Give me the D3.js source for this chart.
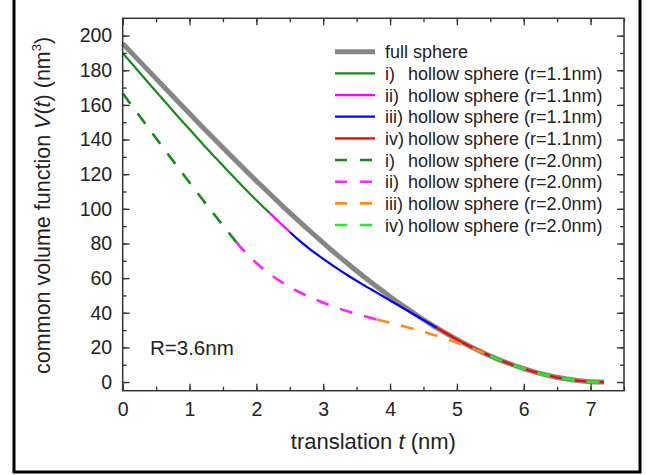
<!DOCTYPE html>
<html>
<head>
<meta charset="utf-8">
<script src="https://cdn.jsdelivr.net/npm/d3@7"></script>
<style>
	body { margin:0; background:#fff; }
	svg text { font-family:"Liberation Sans", Arial, sans-serif; fill:#222; }
</style>
</head>
<body>
<div id="mainchart"></div>
<script>
// Datos
// ========================
// translacion t (nm) y volumen comun V(t) (nm^3)

var tFull = [0,0.2,0.4,0.6,0.8,1.0,1.2,1.4,1.6,1.8,2.0,2.2,2.4,2.6,2.8,3.0,3.2,3.4,3.6,3.8,4.0,4.2,4.4,4.6,4.8,5.0,5.2,5.4,5.6,5.8,6.0,6.2,6.4,6.6,6.8,7.0,7.2];
var vFull = [195.4,187.3,179.2,171.1,163.0,155.0,147.0,139.2,131.4,123.7,116.1,108.7,101.3,94.2,87.2,80.4,73.7,67.3,61.1,55.1,49.3,43.8,38.6,33.6,29.0,24.6,20.5,16.8,13.4,10.4,7.7,5.4,3.5,2.0,0.9,0.2,0];

// hueco r=1.1nm, por tramos i) .. iv)
var tSmall1 = [0,0.2,0.4,0.6,0.8,1.0,1.2,1.4,1.6,1.8,2.0,2.2];
var vSmall1 = [189.9,181.0,172.1,163.3,154.5,145.9,137.3,129.0,120.8,112.8,105.0,97.5];
var tSmall2 = [2.2,2.4,2.5];
var vSmall2 = [97.5,90.2,86.6];
var tSmall3 = [2.5,2.6,2.8,3.0,3.2,3.4,3.6,3.8,4.0,4.2,4.4,4.6,4.7];
var vSmall3 = [86.6,83.1,76.8,71.1,65.8,60.8,56.1,51.6,47.1,42.6,38.1,33.6,31.3];
var tSmall4 = [4.7,4.8,5.0,5.2,5.4,5.6,5.8,6.0,6.2,6.4,6.6,6.8,7.0,7.2];
var vSmall4 = [31.3,29.0,24.6,20.5,16.8,13.4,10.4,7.7,5.4,3.5,2.0,0.9,0.2,0];

// hueco r=2.0nm, por tramos i) .. iv)
var tBig1 = [0,0.2,0.4,0.6,0.8,1.0,1.2,1.4,1.6,1.7];
var vBig1 = [166.7,156.3,145.9,135.6,125.3,115.2,105.1,95.3,85.6,80.8];
var tBig2 = [1.7,1.8,2.0,2.2,2.4,2.6,2.8,3.0,3.2,3.4,3.6,3.8];
var vBig2 = [80.8,76.3,68.7,62.4,57.2,52.8,49.0,45.8,42.9,40.4,38.2,36.1];
var tBig3 = [3.8,4.0,4.2,4.4,4.6,4.8,5.0,5.2,5.4,5.5];
var vBig3 = [36.1,34.2,32.2,30.1,27.8,25.4,22.7,19.9,16.7,15.1];
var tBig4 = [5.5,5.6,5.8,6.0,6.2,6.4,6.6,6.8,7.0,7.2];
var vBig4 = [15.1,13.4,10.4,7.7,5.4,3.5,2.0,0.9,0.2,0];

var xTicks = [0,1,2,3,4,5,6,7];
var yTicks = [0,20,40,60,80,100,120,140,160,180,200];

var series = [
	{label:"full sphere", pre:"", t:tFull, v:vFull, color:"#868686", width:5, dash:null},
	{label:"hollow sphere (r=1.1nm)", pre:"i)", t:tSmall1, v:vSmall1, color:"#158a15", width:2.2, dash:null},
	{label:"hollow sphere (r=1.1nm)", pre:"ii)", t:tSmall2, v:vSmall2, color:"#ff00ff", width:2.2, dash:null},
	{label:"hollow sphere (r=1.1nm)", pre:"iii)", t:tSmall3, v:vSmall3, color:"#0000ff", width:2.2, dash:null},
	{label:"hollow sphere (r=1.1nm)", pre:"iv)", t:tSmall4, v:vSmall4, color:"#ff0000", width:2.2, dash:null},
	{label:"hollow sphere (r=2.0nm)", pre:"i)", t:tBig1, v:vBig1, color:"#158a15", width:2.6, dash:"13,12"},
	{label:"hollow sphere (r=2.0nm)", pre:"ii)", t:tBig2, v:vBig2, color:"#ff22ff", width:2.6, dash:"13,12"},
	{label:"hollow sphere (r=2.0nm)", pre:"iii)", t:tBig3, v:vBig3, color:"#ff8c1a", width:2.6, dash:"13,12"},
	{label:"hollow sphere (r=2.0nm)", pre:"iv)", t:tBig4, v:vBig4, color:"#22ee22", width:2.6, dash:"13,12"}
];

var W = 654, H = 475;
var margin = {top:18.3, right:30, bottom:84.3, left:122.7};
var width = W - margin.left - margin.right,
	height = H - margin.top - margin.bottom;

var svg = d3.select("#mainchart").append("svg")
	.attr("width", W)
	.attr("height", H);

// marco exterior
svg.append("rect")
	.attr("x", 14).attr("y", -10)
	.attr("width", 626).attr("height", 482)
	.attr("fill", "none")
	.attr("stroke", "#000")
	.attr("stroke-width", 3);

var g = svg.append("g")
	.attr("transform", "translate(" + margin.left + "," + margin.top + ")");

var x = d3.scaleLinear().domain([0, 7.5]).range([0, width]);
var y = d3.scaleLinear().domain([-5, 210]).range([height, 0]);

// Curvas (primero la esfera completa, luego las solidas, luego las segmentadas)
var line = d3.line()
	.x(function(d) { return x(d[0]); })
	.y(function(d) { return y(d[1]); })
	.curve(d3.curveMonotoneX);

series.forEach(function(s) {
	var pts = s.t.map(function(t, j) { return [t, s.v[j]]; });
	g.append("path")
		.datum(pts)
		.attr("d", line)
		.attr("fill", "none")
		.attr("stroke", s.color)
		.attr("stroke-width", s.width)
		.attr("stroke-dasharray", s.dash);
});

// Ejes con ticks hacia adentro en los cuatro lados
function styleAxis(sel) {
	sel.select(".domain").remove();
	sel.selectAll(".tick line").attr("stroke", "#333").attr("stroke-width", 1.3);
	sel.selectAll("text").style("font-size", "19.5px").attr("fill", "#222");
}

var xMinor = d3.range(0, 7.51, 0.5), yMinor = d3.range(0, 210, 10);

g.append("g").attr("transform", "translate(0," + height + ")")
	.call(d3.axisBottom(x).tickValues(xMinor).tickSize(-4).tickFormat(""))
	.call(styleAxis);
g.append("g").attr("transform", "translate(0," + height + ")")
	.call(d3.axisBottom(x).tickValues(xTicks).tickSize(-7).tickPadding(11).tickFormat(d3.format("d")))
	.call(styleAxis);
g.append("g")
	.call(d3.axisTop(x).tickValues(xMinor).tickSize(-4).tickFormat(""))
	.call(styleAxis);
g.append("g")
	.call(d3.axisTop(x).tickValues(xTicks).tickSize(-7).tickFormat(""))
	.call(styleAxis);

g.append("g")
	.call(d3.axisLeft(y).tickValues(yMinor).tickSize(-4).tickFormat(""))
	.call(styleAxis);
g.append("g")
	.call(d3.axisLeft(y).tickValues(yTicks).tickSize(-7).tickPadding(10.5).tickFormat(d3.format("d")))
	.call(styleAxis);
g.append("g").attr("transform", "translate(" + width + ",0)")
	.call(d3.axisRight(y).tickValues(yMinor).tickSize(-4).tickFormat(""))
	.call(styleAxis);
g.append("g").attr("transform", "translate(" + width + ",0)")
	.call(d3.axisRight(y).tickValues(yTicks).tickSize(-7).tickFormat(""))
	.call(styleAxis);

// marco del grafico
g.append("rect")
	.attr("width", width).attr("height", height)
	.attr("fill", "none")
	.attr("stroke", "#333")
	.attr("stroke-width", 1.5);

// Titulos de ejes
var xt = svg.append("text")
	.attr("x", margin.left + x(3.75))
	.attr("y", 449)
	.attr("text-anchor", "middle")
	.style("font-size", "22px");
xt.append("tspan").text("translation ");
xt.append("tspan").style("font-style", "italic").text("t");
xt.append("tspan").text(" (nm)");

var yt = svg.append("text")
	.attr("transform", "translate(50," + (margin.top + y(102)) + ") rotate(-90)")
	.attr("text-anchor", "middle")
	.style("font-size", "21.5px");
yt.append("tspan").text("common volume function ");
yt.append("tspan").style("font-style", "italic").text("V");
yt.append("tspan").text("(");
yt.append("tspan").style("font-style", "italic").text("t");
yt.append("tspan").text(") (nm");
yt.append("tspan").attr("dy", -9).style("font-size", "13px").text("3");
yt.append("tspan").attr("dy", 9).text(")");

svg.append("text")
	.attr("x", 150).attr("y", 355)
	.style("font-size", "20.5px")
	.text("R=3.6nm");

// Leyenda
var legend = svg.append("g");
series.forEach(function(s, i) {
	var ly = 51.7 + i * 21.67;
	legend.append("line")
		.attr("x1", 335).attr("x2", 375)
		.attr("y1", ly).attr("y2", ly)
		.attr("stroke", s.color)
		.attr("stroke-width", s.dash ? 2.6 : s.width)
		.attr("stroke-dasharray", s.dash ? "12,13" : null);
	if (s.pre) {
		legend.append("text").attr("x", 385).attr("y", ly).attr("dy", "0.36em")
			.style("font-size", "18px").text(s.pre);
		legend.append("text").attr("x", 408).attr("y", ly).attr("dy", "0.36em")
			.style("font-size", "18px").text(s.label);
	} else {
		legend.append("text").attr("x", 385).attr("y", ly).attr("dy", "0.36em")
			.style("font-size", "18px").text(s.label);
	}
});
</script>
</body>
</html>
